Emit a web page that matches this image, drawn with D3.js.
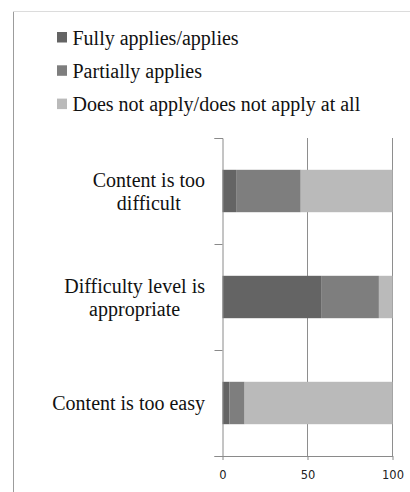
<!DOCTYPE html>
<html>
<head>
<meta charset="utf-8">
<script src="https://cdn.jsdelivr.net/npm/d3@7"></script>
<style>
  html, body { margin: 0; padding: 0; background: #fff; }
  svg { display: block; }
  .serif { font-family: "Liberation Serif", "Times New Roman", Times, "DejaVu Serif", serif; }
  .sans { font-family: "DejaVu Sans", Verdana, sans-serif; }
</style>
</head>
<body>
<svg id="chart" width="410" height="492"></svg>
<script>
// Survey responses per statement (percent of respondents)
const categories = ["Content is too difficult", "Difficulty level is appropriate", "Content is too easy"];
const categoryLines = [["Content is too", "difficult"], ["Difficulty level is", "appropriate"], ["Content is too easy"]];
const seriesNames = ["Fully applies/applies", "Partially applies", "Does not apply/does not apply at all"];
const fullyApplies = [8, 58, 4];
const partiallyApplies = [38, 34, 9];
const doesNotApply = [54, 8, 87];
const xTicks = [0, 50, 100];

const colors = ["#646464", "#7e7e7e", "#bababa"];

const rows = categories.map((c, i) => ({
  category: c,
  s0: fullyApplies[i],
  s1: partiallyApplies[i],
  s2: doesNotApply[i]
}));

const svg = d3.select("#chart");

// outer frame edges
svg.append("line").attr("x1", 13.5).attr("x2", 13.5).attr("y1", 11.5).attr("y2", 492)
  .attr("stroke", "#9c9c9c").attr("stroke-width", 1);
svg.append("line").attr("x1", 13).attr("x2", 410).attr("y1", 11.5).attr("y2", 11.5)
  .attr("stroke", "#dcdcdc").attr("stroke-width", 1);

// plot geometry
const plotLeft = 222.5, plotRight = 392.5, plotTop = 138, plotBottom = 456;

const x = d3.scaleLinear().domain([0, 100]).range([plotLeft, plotRight]);
const y = d3.scaleBand().domain(categories).range([plotTop, plotBottom])
  .paddingInner(0.6).paddingOuter(0.3);

// vertical gridlines
svg.append("g").selectAll("line")
  .data(xTicks.filter(t => t > 0))
  .join("line")
  .attr("x1", d => x(d)).attr("x2", d => x(d))
  .attr("y1", plotTop).attr("y2", plotBottom)
  .attr("stroke", "#8e8e8e").attr("stroke-width", 1);

// stacked bars
const stack = d3.stack().keys(["s0", "s1", "s2"]);
const layers = stack(rows);

svg.append("g").selectAll("g")
  .data(layers)
  .join("g")
  .attr("fill", (d, i) => colors[i])
  .selectAll("rect")
  .data(d => d)
  .join("rect")
  .attr("x", d => x(d[0]))
  .attr("width", d => x(d[1]) - x(d[0]))
  .attr("y", d => y(d.data.category))
  .attr("height", y.bandwidth());

// category axis: ticks at band boundaries
const boundary = d3.scaleLinear().domain([0, categories.length]).range([plotTop, plotBottom]);
const leftAxis = svg.append("g")
  .attr("transform", `translate(${plotLeft},0)`)
  .call(d3.axisLeft(boundary).ticks(categories.length).tickSize(8).tickFormat(""));
leftAxis.select(".domain").attr("stroke", "#8a8a8a");
leftAxis.selectAll(".tick line").attr("stroke", "#8a8a8a");

// value axis
const bottomAxis = svg.append("g")
  .attr("transform", `translate(0,${plotBottom})`)
  .call(d3.axisBottom(x).tickValues(xTicks).tickSize(4).tickPadding(11).tickSizeOuter(0));
bottomAxis.select(".domain").attr("stroke", "#8a8a8a");
bottomAxis.selectAll(".tick line").attr("stroke", "#8a8a8a");
bottomAxis.selectAll(".tick text")
  .attr("class", "sans")
  .attr("font-family", null)
  .attr("font-size", "11.5px")
  .attr("fill", "#222");

// category labels: block right-aligned to the axis, lines centred within it
const labelRight = 205;
const lineHeight = 23;
const labelG = svg.append("g")
  .attr("class", "serif")
  .attr("font-size", "20px")
  .attr("fill", "#111");

categories.forEach((c, i) => {
  const lines = categoryLines[i];
  const cy = y(c) + y.bandwidth() / 2;
  const t = labelG.append("text").attr("text-anchor", "middle");
  const firstBaseline = cy + 7 - (lines.length - 1) * lineHeight / 2;
  lines.forEach((ln, j) => {
    t.append("tspan").attr("y", firstBaseline + j * lineHeight).text(ln);
  });
  // widest line sets the block width
  let maxW = 0;
  t.selectAll("tspan").each(function () {
    maxW = Math.max(maxW, this.getComputedTextLength());
  });
  t.selectAll("tspan").attr("x", labelRight - maxW / 2);
});

// legend
const legend = svg.append("g")
  .attr("class", "serif")
  .attr("font-size", "20px")
  .attr("fill", "#111");

seriesNames.forEach((name, i) => {
  const base = 44.5 + i * 33.3;
  legend.append("rect")
    .attr("x", 57).attr("y", base - 12.5)
    .attr("width", 10).attr("height", 10.5)
    .attr("fill", colors[i]);
  legend.append("text")
    .attr("x", 72.5).attr("y", base)
    .text(name);
});
</script>
</body>
</html>
